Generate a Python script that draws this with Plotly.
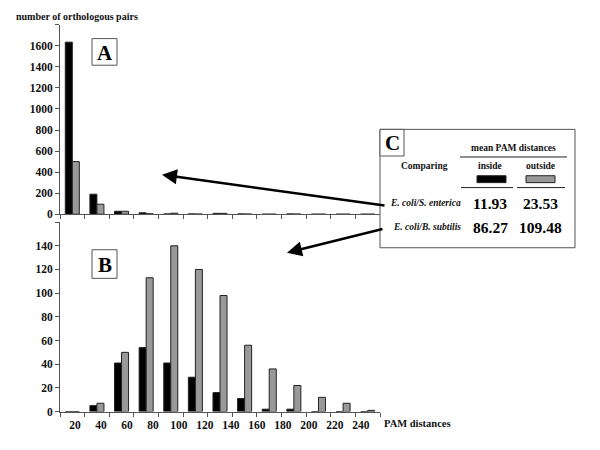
import plotly.graph_objects as go

# ---------------- data ----------------
categories = [20, 40, 60, 80, 100, 120, 140, 160, 180, 200, 220, 240, 260]
tick_labels = [20, 40, 60, 80, 100, 120, 140, 160, 180, 200, 220, 240]
a_yticks = [0, 200, 400, 600, 800, 1000, 1200, 1400, 1600]
b_yticks = [0, 20, 40, 60, 80, 100, 120, 140]

# Panel A: E. coli / S. enterica
a_inside = [1635, 190, 28, 13, 3, 3, 8, 3, 0, 3, 0, 0, 0]
a_outside = [500, 95, 28, 4, 10, 1, 8, 1, 0, 1, 0, 0, 0]

# Panel B: E. coli / B. subtilis
b_inside = [0, 5, 41, 54, 41, 29, 16, 11, 2, 2, 0, 0, 0]
b_outside = [0, 7, 50, 113, 140, 120, 98, 56, 36, 22, 12, 7, 1]

table_rows = ["E. coli/S. enterica", "E. coli/B. subtilis"]
table_inside = ["11.93", "86.27"]
table_outside = ["23.53", "109.48"]

# ---------------- style ----------------
W, H = 600, 450
OFF = 8  # page body margin
TNR = "Liberation Serif"
BLACK = "#000000"
GRAY = "#999999"
AX = "#555555"


def px(x):
    return (x - OFF) / W


def py(y):
    return 1 - (y - OFF) / H


fig = go.Figure()
bar_line = dict(color="#222", width=1)
fig.add_bar(x=categories, y=a_inside, marker=dict(color=BLACK, line=bar_line),
            xaxis="x", yaxis="y", showlegend=False)
fig.add_bar(x=categories, y=a_outside, marker=dict(color=GRAY, line=bar_line),
            xaxis="x", yaxis="y", showlegend=False)
fig.add_bar(x=categories, y=b_inside, marker=dict(color=BLACK, line=bar_line),
            xaxis="x2", yaxis="y2", showlegend=False)
fig.add_bar(x=categories, y=b_outside, marker=dict(color=GRAY, line=bar_line),
            xaxis="x2", yaxis="y2", showlegend=False)

xdom = [px(60), px(380)]
xrange = [10, 270]
a_top, b_top = 1800, 160
tickfont = dict(family=TNR, size=11.5, color="#111", weight="bold")

# label positions (labels in the source are spread slightly wider than categories)
label_pos = [22.2 + (v - 20) * 1.056 for v in tick_labels]

common_x = dict(domain=xdom, range=xrange, showline=True, linecolor=AX, linewidth=1,
                showgrid=False, zeroline=False, ticks="",
                minor=dict(ticks="outside", ticklen=4, tickcolor=AX, tickmode="linear",
                           tick0=10, dtick=20, showgrid=False))
common_y = dict(showline=True, linecolor=AX, linewidth=1, showgrid=False, zeroline=False,
                ticks="outside", ticklen=4, tickcolor=AX, tickfont=tickfont, tickmode="array")

fig.update_layout(
    width=W, height=H, margin=dict(l=0, r=0, t=0, b=0),
    paper_bgcolor="white", plot_bgcolor="white",
    barmode="group", bargap=0.43, bargroupgap=0,
    xaxis=dict(anchor="y", showticklabels=False, **common_x),
    yaxis=dict(anchor="x", domain=[py(217), py(25)], range=[0, a_top],
               tickvals=a_yticks + [a_top], ticktext=[str(v) for v in a_yticks] + [""], **common_y),
    xaxis2=dict(anchor="y2", showticklabels=True, tickmode="array", tickvals=label_pos,
                ticktext=[str(v) for v in tick_labels], tickfont=tickfont,
                ticklabelstandoff=3, **common_x),
    yaxis2=dict(anchor="x2", domain=[py(417), py(225)], range=[0, b_top],
                tickvals=b_yticks + [b_top], ticktext=[str(v) for v in b_yticks] + [""], **common_y),
)

shapes = []
annotations = []


def text(x, y, t, font, xanchor="center", yanchor="middle"):
    annotations.append(dict(x=px(x), y=py(y), xref="paper", yref="paper", xanchor=xanchor,
                            yanchor=yanchor, text=t, showarrow=False, font=font))


lab_font = dict(family=TNR, size=10, color="#111", weight="bold")
# axis titles
text(14, 17, "number of orthologous pairs", lab_font, xanchor="left")
text(382, 429, "PAM distances", dict(family=TNR, size=10.5, color="#111", weight="bold"), xanchor="left")

# panel labels A and B
for lab, (x0, y0, x1, y1) in [("A", (92, 39, 117, 66)), ("B", (92, 253, 117, 282))]:
    shapes.append(dict(type="rect", xref="paper", yref="paper", x0=px(x0), x1=px(x1), y0=py(y1), y1=py(y0),
                       line=dict(color="#555", width=1), fillcolor="white"))
    text((x0 + x1) / 2, (y0 + y1) / 2 + 1, lab, dict(family=TNR, size=21, color="#000", weight="bold"))

# panel C table
shapes.append(dict(type="rect", xref="paper", yref="paper", x0=px(380), x1=px(575), y0=py(251), y1=py(131),
                   line=dict(color="#555", width=1), fillcolor="white"))
shapes.append(dict(type="rect", xref="paper", yref="paper", x0=px(380), x1=px(404), y0=py(158), y1=py(131),
                   line=dict(color="#555", width=1), fillcolor="white"))
text(392, 145, "C", dict(family=TNR, size=21, color="#000", weight="bold"))

small = dict(family=TNR, size=9.5, color="#111", weight="bold")
text(513, 150, "mean PAM distances", small)
shapes.append(dict(type="line", xref="paper", yref="paper", x0=px(460), x1=px(567), y0=py(159), y1=py(159),
                   line=dict(color="#222", width=1)))
text(425, 168, "Comparing", small)
text(490, 168, "inside", small)
text(540, 168, "outside", small)
shapes.append(dict(type="rect", xref="paper", yref="paper", x0=px(477), x1=px(506), y0=py(185), y1=py(178),
                   line=dict(color="#222", width=1), fillcolor=BLACK))
shapes.append(dict(type="rect", xref="paper", yref="paper", x0=px(526), x1=px(555), y0=py(185), y1=py(178),
                   line=dict(color="#222", width=1), fillcolor=GRAY))
shapes.append(dict(type="line", xref="paper", yref="paper", x0=px(461), x1=px(513), y0=py(190), y1=py(190),
                   line=dict(color="#222", width=1)))
shapes.append(dict(type="line", xref="paper", yref="paper", x0=px(517), x1=px(565), y0=py(190), y1=py(190),
                   line=dict(color="#222", width=1)))

row_y = [206, 230]
num_font = dict(family=TNR, size=15.5, color="#000", weight="bold")
for i, name in enumerate(table_rows):
    text(463, row_y[i], "<i>%s</i>" % name, dict(family=TNR, size=9.5, color="#111", weight="bold"),
         xanchor="right")
    text(490, row_y[i], table_inside[i], num_font)
    text(540, row_y[i], table_outside[i], num_font)

# arrows
for head, tail in [((162, 177), (386, 208)), ((287, 256), (384, 232))]:
    annotations.append(dict(x=px(head[0]), y=py(head[1]), xref="paper", yref="paper",
                            ax=tail[0] - head[0], ay=tail[1] - head[1], axref="pixel", ayref="pixel",
                            text="", showarrow=True, arrowhead=2, arrowsize=1.2, arrowwidth=2.5,
                            arrowcolor="#000", standoff=0))

fig.update_layout(shapes=shapes, annotations=annotations)
fig.write_html("out.html")
